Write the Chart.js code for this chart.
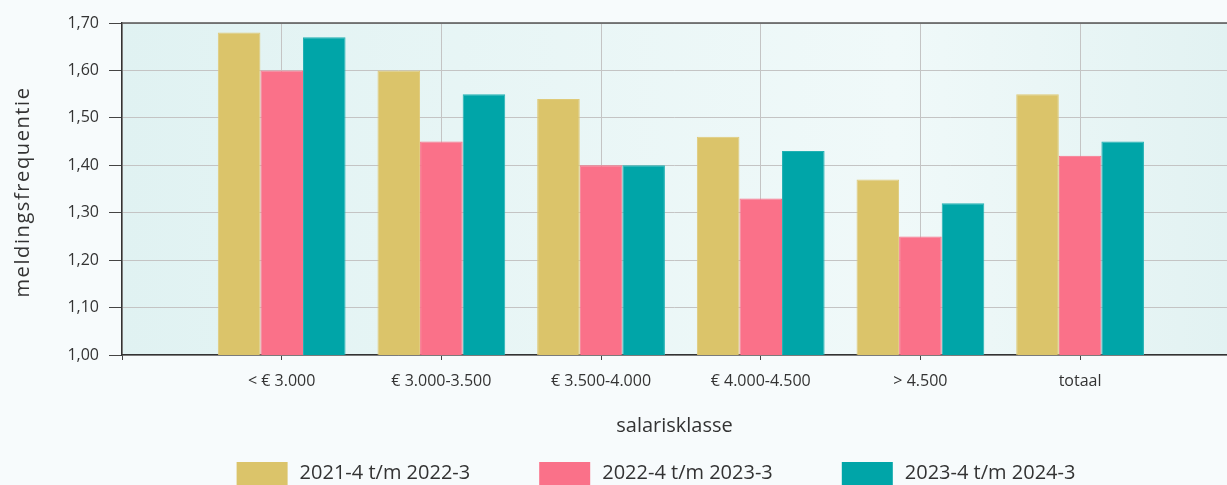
<!DOCTYPE html>
<html>
<head>
<meta charset="utf-8">
<script src="https://cdn.jsdelivr.net/npm/chart.js@4.4.1/dist/chart.umd.min.js"></script>
<style>
    html, body { margin: 0; padding: 0; background: #f7fbfc; }
    #wrap { width: 1227px; height: 485px; position: relative; }
</style>
</head>
<body>
<div id="wrap"><canvas id="chart"></canvas></div>
<script>
const categories = ['< € 3.000', '€ 3.000-3.500', '€ 3.500-4.000', '€ 4.000-4.500', '> 4.500', 'totaal'];
const seriesLabels = ['2021-4 t/m 2022-3', '2022-4 t/m 2023-3', '2023-4 t/m 2024-3'];
const values2122 = [1.68, 1.60, 1.54, 1.46, 1.37, 1.55];
const values2223 = [1.60, 1.45, 1.40, 1.33, 1.25, 1.42];
const values2324 = [1.67, 1.55, 1.40, 1.43, 1.32, 1.45];
const yMin = 1.0, yMax = 1.7, yStep = 0.1;
const yTitle = 'meldingsfrequentie';
const xTitle = 'salarisklasse';

const FONT = '"Open Sans", sans-serif';
const TEXT = '#333333';

const toPoints = (vals) => vals.map((v, i) => ({ x: i + 1, y: v }));

// plot background, top border line and the (letter-spaced) y title
const plotFrame = {
    id: 'plotFrame',
    beforeDraw(chart) {
        const { ctx, chartArea: a } = chart;
        const g = ctx.createLinearGradient(a.left, 0, a.right, 0);
        g.addColorStop(0, '#e0f2f2');
        g.addColorStop(0.7, '#f0f9f9');
        g.addColorStop(1, '#e2f2f2');
        ctx.save();
        ctx.fillStyle = g;
        ctx.fillRect(a.left, a.top, a.right - a.left, a.bottom - a.top);
        ctx.restore();
    },
    afterDraw(chart) {
        const { ctx, chartArea: a } = chart;
        ctx.save();
        ctx.strokeStyle = '#555';
        ctx.lineWidth = 1.5;
        ctx.beginPath();
        ctx.moveTo(a.left, a.top);
        ctx.lineTo(a.right, a.top);
        ctx.stroke();
        ctx.restore();

        ctx.save();
        ctx.translate(23, 192);
        ctx.rotate(-Math.PI / 2);
        ctx.font = '20px ' + FONT;
        ctx.letterSpacing = '1.6px';
        ctx.fillStyle = TEXT;
        ctx.textAlign = 'center';
        ctx.textBaseline = 'middle';
        ctx.fillText(yTitle, 0, 0);
        ctx.restore();
    }
};

// legend centred under the chart, drawn from the datasets
const bottomLegend = {
    id: 'bottomLegend',
    afterDraw(chart) {
        const ctx = chart.ctx;
        const boxW = 51, boxH = 23, gap = 12, spacing = 69;
        ctx.save();
        ctx.font = '20px ' + FONT;
        const items = chart.data.datasets.map(ds => ({
            text: ds.label,
            color: ds.backgroundColor,
            w: boxW + gap + ctx.measureText(ds.label).width
        }));
        const total = items.reduce((s, it) => s + it.w, 0) + spacing * (items.length - 1);
        let x = 656 - total / 2;
        const y = 462;
        items.forEach(it => {
            ctx.fillStyle = it.color;
            ctx.fillRect(x, y, boxW, boxH);
            ctx.fillStyle = TEXT;
            ctx.textBaseline = 'middle';
            ctx.textAlign = 'left';
            ctx.fillText(it.text, x + boxW + gap, y + boxH / 2);
            x += it.w + spacing;
        });
        ctx.restore();
    }
};

const ctx = document.getElementById('chart').getContext('2d');
new Chart(ctx, {
    type: 'bar',
    data: {
        datasets: [
            { label: seriesLabels[0], data: toPoints(values2122), backgroundColor: '#dbc46a', borderColor: '#dfca78', borderWidth: 1 },
            { label: seriesLabels[1], data: toPoints(values2223), backgroundColor: '#fa7189', borderColor: '#fa7189', borderWidth: 1 },
            { label: seriesLabels[2], data: toPoints(values2324), backgroundColor: '#00a5a8', borderColor: '#22b1b3', borderWidth: 1 }
        ]
    },
    options: {
        responsive: true,
        maintainAspectRatio: false,
        animation: false,
        layout: { padding: { top: 23, left: 0, right: 0, bottom: 50 } },
        datasets: { bar: { categoryPercentage: 0.8, barPercentage: 1 } },
        scales: {
            x: {
                type: 'linear',
                min: 0,
                max: 6.92,
                offset: false,
                border: { color: '#333', width: 1.5 },
                grid: { offset: false, color: '#c4c4c4', tickColor: '#444', tickLength: 5 },
                ticks: {
                    stepSize: 1,
                    includeBounds: false,
                    autoSkip: false,
                    maxRotation: 0,
                    padding: 12,
                    color: TEXT,
                    font: { family: FONT, size: 16 },
                    callback: (v) => categories[v - 1] || ''
                },
                title: {
                    display: true,
                    text: xTitle,
                    color: TEXT,
                    font: { family: FONT, size: 20 },
                    padding: { top: 0, bottom: -3 }
                },
                afterFit: (scale) => { scale.height = 80; }
            },
            y: {
                min: yMin,
                max: yMax,
                border: { color: '#333', width: 1.5 },
                grid: { color: '#c4c4c4', tickColor: '#444', tickLength: 13 },
                ticks: {
                    stepSize: yStep,
                    padding: 10,
                    color: TEXT,
                    font: { family: FONT, size: 16 },
                    callback: (v) => v.toFixed(2).replace('.', ',')
                },
                title: { display: false },
                afterFit: (scale) => { scale.width = 122; }
            }
        },
        plugins: {
            legend: { display: false },
            tooltip: { enabled: false }
        }
    },
    plugins: [plotFrame, bottomLegend]
});
</script>
</body>
</html>
